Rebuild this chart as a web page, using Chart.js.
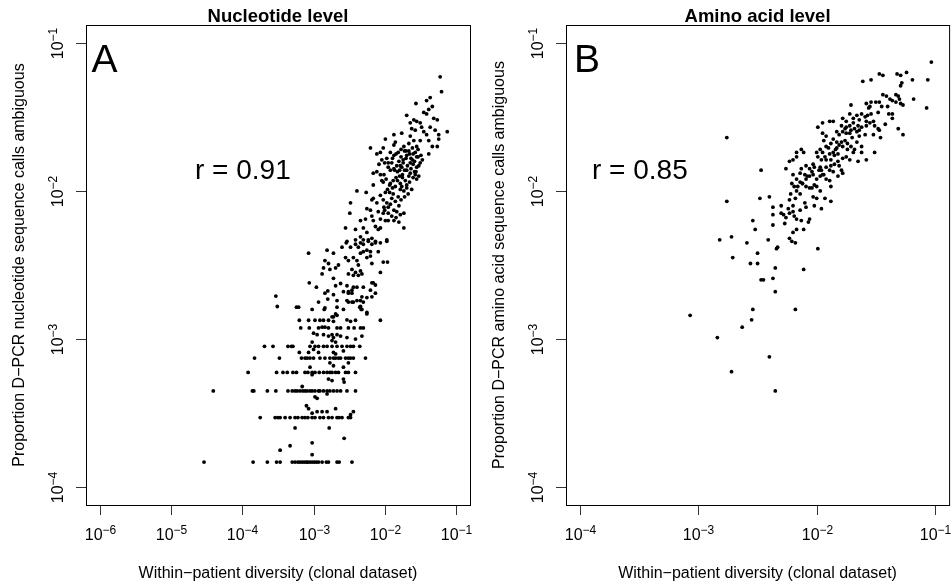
<!DOCTYPE html>
<html>
<head>
<meta charset="utf-8">
<script src="https://cdn.jsdelivr.net/npm/chart.js@4.4.1/dist/chart.umd.min.js"></script>
<style>
    html, body { margin: 0; padding: 0; background: #fff; }
    #wrap { position: relative; width: 951px; height: 586px; }
    canvas { position: absolute; top: 0; }
</style>
</head>
<body>
<div id="wrap">
    <canvas id="panelA" width="475" height="586" style="left:0"></canvas>
    <canvas id="panelB" width="476" height="586" style="left:475px"></canvas>
</div>
<script>
// All values are log10: [diversity, proportion ambiguous]

// ===== AXES =====
const ntDivRange = [-6.2, -0.8];
const aaDivRange = [-4.12, -0.88];
const ambRange = [-4.12, -0.88];
const ntTickExp = [-6, -5, -4, -3, -2, -1];
const aaTickExp = [-4, -3, -2, -1];
const ambTickExp = [-4, -3, -2, -1];

// ===== PANEL A: NUCLEOTIDE =====
// low counts of ambiguous calls sit on discrete levels
const ntRowLevels = [-3.83, -3.53, -3.35, -3.225, -3.128, -3.049];
const ntRowDiv = [
    [-4.54, -3.85, -3.65, -3.52, -3.47, -3.30, -3.26, -3.22, -3.19, -3.16, -3.13, -3.10, -3.08, -3.05, -3.02, -2.99, -2.96, -2.93, -2.88, -2.82, -2.79, -2.67, -2.64, -2.46],
    [-3.75, -3.54, -3.50, -3.47, -3.40, -3.33, -3.26, -3.22, -3.16, -3.12, -3.08, -3.02, -2.98, -2.91, -2.86, -2.79, -2.74, -2.67, -2.64, -2.60, -2.51, -2.48],
    [-4.41, -3.86, -3.84, -3.65, -3.53, -3.36, -3.30, -3.26, -3.23, -3.19, -3.15, -3.12, -3.09, -3.05, -3.02, -2.98, -2.93, -2.91, -2.86, -2.81, -2.77, -2.72, -2.67, -2.62, -2.53, -2.41],
    [-3.92, -3.52, -3.43, -3.37, -3.29, -3.24, -3.12, -3.08, -3.02, -2.98, -2.92, -2.86, -2.81, -2.77, -2.74, -2.69, -2.65, -2.55, -2.51, -2.41],
    [-3.83, -3.48, -3.17, -3.12, -3.09, -3.05, -3.00, -2.91, -2.84, -2.77, -2.72, -2.69, -2.65, -2.62, -2.55, -2.51, -2.48, -2.44, -2.27],
    [-3.69, -3.57, -3.36, -3.31, -3.29, -3.05, -2.98, -2.93, -2.86, -2.81, -2.74, -2.67, -2.60, -2.53, -2.48, -2.44, -2.35]
];

const ntLow = [
    [-3.26, -3.60], [-2.78, -3.60], [-2.57, -3.67], [-3.02, -3.70], [-3.33, -3.72], [-3.47, -3.75], [-3.02, -3.78],
    [-3.10, -3.45], [-3.07, -3.47], [-3.02, -3.50], [-2.95, -3.49], [-2.88, -3.49], [-2.81, -3.49], [-2.69, -3.47], [-2.44, -3.49], [-2.48, -3.51],
    [-3.16, -3.32], [-2.98, -3.39], [-2.95, -3.40], [-2.81, -3.37], [-2.79, -3.27], [-2.74, -3.28], [-2.58, -3.27], [-2.57, -3.29],
    [-3.05, -3.19], [-3.02, -3.24], [-2.77, -3.16], [-2.72, -3.18], [-2.58, -3.19], [-2.51, -3.16],
    [-3.00, -3.07], [-2.93, -3.09], [-3.20, -3.09], [-3.07, -3.09], [-2.72, -3.09], [-2.69, -3.10], [-2.58, -3.08], [-3.02, -3.02], [-2.74, -3.01], [-2.69, -3.02]
];

const ntMid = [
    [-3.00, -2.96], [-2.95, -2.97], [-2.86, -2.97], [-2.79, -2.98], [-2.74, -2.97], [-2.72, -2.99], [-2.67, -2.97], [-2.62, -2.98], [-2.53, -2.99], [-2.41, -3.00], [-2.32, -2.98],
    [-3.18, -2.925], [-3.06, -2.925], [-2.93, -2.925], [-2.88, -2.92], [-2.84, -2.92], [-2.79, -2.925], [-2.67, -2.925], [-2.62, -2.925], [-2.51, -2.925], [-2.43, -2.925], [-2.34, -2.925], [-2.30, -2.925],
    [-3.20, -2.873], [-3.07, -2.873], [-2.98, -2.873], [-2.91, -2.873], [-2.86, -2.873], [-2.79, -2.873], [-2.72, -2.88], [-2.53, -2.87], [-2.48, -2.88], [-2.41, -2.873], [-2.06, -2.873],
    [-2.69, -2.83], [-2.67, -2.84], [-2.72, -2.85], [-2.25, -2.83], [-2.74, -2.85],
    [-3.51, -2.78], [-3.24, -2.785], [-3.21, -2.785], [-3.02, -2.80], [-2.85, -2.80], [-2.84, -2.79], [-2.67, -2.785], [-2.58, -2.80], [-2.35, -2.785], [-2.32, -2.80], [-2.34, -2.78], [-2.33, -2.80], [-2.25, -2.82],
    [-2.93, -2.75], [-2.80, -2.73], [-2.67, -2.74], [-2.53, -2.74], [-2.44, -2.75], [-2.39, -2.74], [-2.30, -2.75], [-2.51, -2.75], [-2.46, -2.75], [-2.34, -2.74],
    [-3.53, -2.71], [-2.32, -2.715], [-2.25, -2.72], [-2.18, -2.715],
    [-2.72, -2.70], [-2.80, -2.675], [-2.58, -2.68], [-2.51, -2.69], [-2.46, -2.67], [-2.20, -2.67], [-2.13, -2.69], [-2.84, -2.69], [-2.51, -2.68], [-2.46, -2.69],
    [-3.06, -2.62], [-2.96, -2.65], [-2.69, -2.64], [-2.62, -2.625], [-2.53, -2.64], [-2.44, -2.65], [-2.30, -2.65], [-2.18, -2.62], [-2.13, -2.635], [-2.16, -2.62], [-2.39, -2.65]
];

const ntUpper = [
    [-3.07, -2.42], [-2.81, -2.40], [-2.72, -2.42], [-2.60, -2.38], [-2.54, -2.35], [-2.48, -2.38], [-2.41, -2.36], [-2.37, -2.38], [-2.34, -2.35], [-2.30, -2.36],
    [-2.23, -2.34], [-2.18, -2.36], [-2.13, -2.35], [-2.06, -2.35], [-1.97, -2.34], [-2.25, -2.40], [-2.20, -2.41], [-2.34, -2.42], [-2.30, -2.41], [-2.09, -2.41],
    [-2.84, -2.47], [-2.79, -2.49], [-2.55, -2.45], [-2.51, -2.47], [-2.44, -2.45], [-2.39, -2.47], [-2.25, -2.45], [-2.20, -2.44], [-2.37, -2.50], [-2.18, -2.49],
    [-2.02, -2.48], [-1.96, -2.48], [-2.86, -2.52], [-2.69, -2.52], [-2.65, -2.50], [-2.77, -2.53], [-2.88, -2.56], [-2.46, -2.53], [-2.41, -2.55], [-2.51, -2.56],
    [-2.34, -2.54], [-2.32, -2.56], [-2.37, -2.57], [-2.44, -2.57], [-2.06, -2.55], [-2.72, -2.59]
];

const ntCore = [
    [-2.11, -1.75], [-2.06, -1.74], [-1.92, -1.74], [-1.87, -1.76], [-1.81, -1.74], [-1.77, -1.77], [-1.72, -1.73], [-1.70, -1.78], [-1.65, -1.75], [-1.61, -1.79],
    [-1.57, -1.74], [-1.53, -1.77], [-1.64, -1.81], [-1.74, -1.81], [-1.78, -1.83], [-1.50, -1.81], [-1.38, -1.75], [-1.97, -1.78], [-1.95, -1.81], [-1.92, -1.86],
    [-1.87, -1.85], [-2.16, -1.88], [-2.11, -1.87], [-2.06, -1.89], [-1.82, -1.87], [-1.79, -1.90], [-1.82, -1.93], [-1.78, -1.95], [-1.75, -1.91], [-1.69, -1.86],
    [-1.64, -1.88], [-1.57, -1.89], [-1.52, -1.90], [-1.55, -1.92], [-2.04, -1.93], [-2.02, -1.94], [-2.16, -1.96], [-1.92, -1.95], [-1.89, -1.98], [-1.93, -2.01],
    [-1.88, -2.02], [-1.85, -1.97], [-1.76, -1.97], [-1.69, -1.98], [-1.99, -2.01], [-2.06, -2.03], [-2.39, -2.00], [-2.26, -2.01], [-2.48, -2.08], [-2.49, -2.15],
    [-2.18, -2.06], [-2.16, -2.05], [-2.11, -2.08], [-2.02, -2.06], [-2.01, -2.11], [-1.95, -2.11], [-1.87, -2.13], [-1.83, -2.14], [-1.78, -2.16], [-1.73, -2.15],
    [-2.25, -2.12], [-2.20, -2.13], [-2.09, -2.14], [-2.02, -2.15], [-2.34, -2.20], [-2.27, -2.19], [-2.18, -2.17], [-2.16, -2.20], [-2.06, -2.19], [-1.99, -2.20],
    [-1.95, -2.20], [-1.87, -2.20], [-1.80, -2.21], [-1.73, -2.25], [-2.55, -2.25], [-2.41, -2.26], [-2.30, -2.25], [-2.25, -2.28], [-2.13, -2.24], [-2.09, -2.26],
    [-2.06, -2.25], [-2.41, -2.33], [-2.34, -2.31], [-2.30, -2.33], [-2.23, -2.33], [-2.18, -2.32], [-2.13, -2.34], [-1.97, -2.33], [-2.53, -2.34],
    [-1.80, -1.80], [-1.76, -1.84], [-1.72, -1.86], [-1.68, -1.83], [-1.63, -1.85], [-1.60, -1.82], [-1.58, -1.87], [-1.66, -1.90], [-1.71, -1.93], [-1.75, -1.89],
    [-1.78, -1.99], [-1.73, -2.00], [-1.69, -1.96], [-1.65, -1.94], [-1.62, -1.99], [-1.81, -2.04], [-1.77, -2.06], [-1.72, -2.04], [-1.85, -2.07], [-1.90, -2.05],
    [-1.84, -1.91], [-1.88, -1.93], [-1.86, -1.86], [-1.83, -1.83], [-1.79, -1.86], [-1.74, -1.79], [-1.69, -1.76], [-1.63, -1.78], [-1.58, -1.80], [-1.55, -1.84],
    [-1.67, -2.02], [-1.80, -2.10], [-1.92, -2.09], [-1.97, -2.08], [-1.95, -2.15], [-1.90, -2.17], [-1.84, -2.18], [-2.00, -2.13], [-1.96, -1.99], [-1.93, -1.96],
    [-1.98, -1.92], [-2.01, -1.89], [-1.95, -1.84], [-1.90, -1.81], [-2.00, -1.81], [-2.04, -1.79], [-2.08, -1.82], [-1.89, -1.78], [-1.84, -1.75], [-1.77, -1.72],
    [-1.70, -1.73], [-1.66, -1.73], [-1.60, -1.75], [-1.55, -1.77], [-1.49, -1.76], [-1.47, -1.79], [-1.52, -1.83], [-1.56, -1.87], [-1.60, -1.91]
];

const ntTop = [
    [-1.22, -1.23], [-1.20, -1.33], [-1.36, -1.37], [-1.41, -1.39], [-1.56, -1.41], [-1.33, -1.43], [-1.38, -1.45], [-1.45, -1.47], [-1.41, -1.48], [-1.69, -1.49],
    [-1.59, -1.52], [-1.55, -1.53], [-1.31, -1.51], [-1.26, -1.52], [-1.64, -1.54], [-1.50, -1.54], [-1.48, -1.57], [-1.62, -1.58], [-1.57, -1.59], [-1.36, -1.57],
    [-1.29, -1.59], [-1.12, -1.60], [-1.24, -1.62], [-1.45, -1.60], [-1.41, -1.62], [-1.76, -1.61], [-1.87, -1.62], [-1.99, -1.65], [-1.64, -1.63], [-1.59, -1.66],
    [-1.66, -1.68], [-1.50, -1.66], [-1.55, -1.70], [-1.38, -1.66], [-1.24, -1.65], [-1.26, -1.70], [-1.85, -1.67], [-1.87, -1.69], [-1.33, -1.70], [-2.20, -1.71],
    [-2.02, -1.71], [-1.73, -1.70], [-1.61, -1.71], [-1.53, -1.72]
];

// ===== PANEL B: AMINO ACID =====
const aaPoints = [
    [-1.03, -1.13], [-1.47, -1.21], [-1.44, -1.22], [-1.32, -1.21], [-1.29, -1.22], [-1.24, -1.20], [-1.61, -1.26], [-1.54, -1.25], [-1.28, -1.27], [-1.29, -1.29],
    [-1.19, -1.25], [-1.06, -1.25], [-1.18, -1.38], [-1.07, -1.44], [-1.44, -1.35], [-1.41, -1.36], [-1.33, -1.35], [-1.31, -1.36], [-1.38, -1.38], [-1.36, -1.39],
    [-1.33, -1.40], [-1.29, -1.41], [-1.27, -1.42], [-1.47, -1.40], [-1.45, -1.43], [-1.58, -1.41], [-1.54, -1.40], [-1.55, -1.43], [-1.71, -1.42], [-1.39, -1.48],
    [-1.36, -1.51], [-1.31, -1.58], [-1.27, -1.62], [-1.51, -1.56], [-1.48, -1.58], [-1.47, -1.59], [-1.62, -1.48], [-1.59, -1.50], [-1.57, -1.49], [-1.54, -1.48],
    [-1.66, -1.49], [-1.69, -1.51], [-1.72, -1.48], [-1.78, -1.51], [-1.75, -1.53], [-1.58, -1.53], [-1.55, -1.54], [-1.52, -1.53], [-1.69, -1.54], [-1.65, -1.56],
    [-1.62, -1.57], [-1.79, -1.56], [-1.75, -1.57], [-1.72, -1.56], [-1.86, -1.53], [-1.95, -1.54], [-1.89, -1.53], [-1.99, -1.57], [-1.71, -1.59], [-1.66, -1.60],
    [-1.64, -1.59], [-1.78, -1.60], [-1.75, -1.61], [-1.72, -1.61], [-1.64, -1.63], [-1.59, -1.62], [-1.81, -1.62], [-1.95, -1.61], [-1.92, -1.63], [-1.94, -1.66],
    [-1.86, -1.65], [-1.83, -1.67], [-1.79, -1.67], [-1.76, -1.66], [-1.74, -1.68], [-1.81, -1.69], [-1.78, -1.70], [-1.83, -1.71], [-1.71, -1.70], [-1.68, -1.72],
    [-1.69, -1.74], [-1.62, -1.74], [-1.51, -1.74], [-1.58, -1.79], [-1.65, -1.80], [-1.72, -1.79], [-1.75, -1.77], [-1.78, -1.78], [-1.97, -1.72], [-1.95, -1.74],
    [-1.90, -1.71], [-1.89, -1.75], [-1.86, -1.74], [-1.85, -1.76], [-1.82, -1.75], [-2.00, -1.74], [-1.99, -1.77], [-1.93, -1.77], [-1.92, -1.79], [-1.88, -1.79],
    [-1.85, -1.82], [-1.82, -1.80], [-1.81, -1.83], [-1.79, -1.86], [-1.78, -1.88], [-1.92, -1.84], [-1.89, -1.86], [-1.88, -1.83], [-1.97, -1.84], [-1.96, -1.86],
    [-2.03, -1.82], [-2.02, -1.84], [-2.09, -1.83], [-2.06, -1.85], [-2.13, -1.85], [-2.14, -1.88], [-2.20, -1.79], [-2.17, -1.77], [-2.23, -1.80], [-2.17, -1.74],
    [-2.13, -1.72], [-2.11, -1.74], [-2.26, -1.85], [-2.20, -1.89], [-2.17, -1.92], [-2.14, -1.94], [-2.10, -1.89], [-2.09, -1.92], [-2.06, -1.90], [-2.03, -1.89],
    [-2.00, -1.92], [-1.97, -1.90], [-1.95, -1.89], [-1.92, -1.92], [-1.89, -1.93], [-2.12, -1.95], [-2.09, -1.97], [-2.04, -1.98], [-2.00, -1.97], [-1.97, -2.00],
    [-1.88, -1.97], [-2.21, -1.95], [-2.19, -1.97], [-2.17, -2.00], [-2.14, -2.02], [-2.03, -2.04], [-2.00, -2.05], [-1.93, -2.05], [-1.88, -2.07], [-1.96, -2.12],
    [-2.09, -2.11], [-2.23, -2.06], [-2.20, -2.10], [-2.30, -2.10], [-2.37, -2.11], [-2.48, -2.05], [-2.40, -2.04], [-2.28, -2.16], [-2.26, -2.18], [-2.23, -2.15],
    [-2.20, -2.14], [-2.19, -2.17], [-2.17, -2.19], [-2.13, -2.20], [-2.06, -2.19], [-2.07, -2.21], [-2.37, -2.16], [-2.37, -2.23], [-2.27, -2.22], [-2.54, -2.20],
    [-2.52, -2.26], [-2.20, -2.28], [-2.17, -2.26], [-2.23, -2.32], [-2.21, -2.34], [-2.11, -2.26], [-2.41, -2.33], [-2.59, -2.35], [-2.72, -2.31], [-2.82, -2.33],
    [-2.34, -2.39], [-2.33, -2.38], [-2.50, -2.42], [-2.71, -2.45], [-1.99, -2.39], [-2.76, -1.64], [-2.76, -2.07], [-2.47, -1.86],
    [-2.18, -2.35], [-2.56, -2.49], [-2.50, -2.49], [-2.35, -2.52], [-2.11, -2.53], [-2.47, -2.60], [-2.45, -2.60], [-2.37, -2.59], [-2.35, -2.68], [-2.54, -2.80],
    [-2.18, -2.80], [-3.07, -2.84], [-2.55, -2.87], [-2.63, -2.92], [-2.84, -2.99], [-2.40, -3.12], [-2.72, -3.22], [-2.35, -3.35],
    [-1.70, -1.64], [-1.66, -1.67], [-1.74, -1.72], [-1.62, -1.70], [-1.88, -1.68], [-1.92, -1.70], [-1.96, -1.79], [-1.98, -1.86], [-2.04, -1.87], [-2.08, -1.90],
    [-2.12, -1.95], [-2.06, -1.98], [-2.02, -1.96], [-1.94, -1.89], [-1.86, -1.87], [-1.82, -1.90], [-1.84, -1.72], [-1.68, -1.58], [-1.58, -1.56], [-1.52, -1.62],
    [-1.46, -1.64], [-1.42, -1.55], [-1.36, -1.48], [-1.48, -1.47], [-1.40, -1.43], [-1.30, -1.38], [-1.50, -1.40], [-1.56, -1.44], [-1.64, -1.52], [-1.76, -1.58],
    [-1.83, -1.60], [-2.16, -1.97], [-2.22, -2.02], [-2.18, -2.05], [-2.10, -2.08], [-2.02, -2.10], [-2.24, -2.12], [-2.14, -2.13], [-2.30, -2.15]
];

// ===== BUILD POINTS =====
const ntPoints = [
    ...ntRowLevels.flatMap((lv, i) => ntRowDiv[i].map(d => [d, lv])),
    ...ntLow, ...ntMid, ...ntUpper, ...ntCore, ...ntTop
];

const FONT = '"Liberation Sans", Arial, Helvetica, sans-serif';

function powLabel(ctx, exp, cx, base) {
    const main = '10', sup = '\u2212' + Math.abs(exp);
    ctx.font = '16px ' + FONT;
    const w1 = ctx.measureText(main).width;
    ctx.font = '12px ' + FONT;
    const w2 = ctx.measureText(sup).width;
    const x0 = cx - (w1 + w2) / 2;
    ctx.font = '16px ' + FONT;
    ctx.fillText(main, x0, base);
    ctx.font = '12px ' + FONT;
    ctx.fillText(sup, x0 + w1, base - 6);
}

// R-style box, ticks and labels
function rAxes(cfg) {
    return {
        id: 'rAxes',
        afterDraw(chart) {
            const { ctx, chartArea: a, scales: { x, y } } = chart;
            ctx.save();
            ctx.fillStyle = '#000';
            ctx.strokeStyle = '#000';
            ctx.lineWidth = 1;
            ctx.strokeRect(a.left + 0.5, a.top + 0.5, a.right - a.left, a.bottom - a.top);

            ctx.strokeStyle = '#333';
            ctx.textAlign = 'left';
            ctx.textBaseline = 'alphabetic';
            cfg.xTicks.forEach(e => {
                const px = Math.round(x.getPixelForValue(10 ** e)) + 0.5;
                ctx.beginPath(); ctx.moveTo(px, a.bottom + 1); ctx.lineTo(px, a.bottom + 10); ctx.stroke();
                powLabel(ctx, e, px, 540);
            });
            ambTickExp.forEach(e => {
                const py = Math.round(y.getPixelForValue(10 ** e)) + 0.5;
                ctx.beginPath(); ctx.moveTo(a.left - 10, py); ctx.lineTo(a.left, py); ctx.stroke();
                ctx.save();
                ctx.translate(a.left - 23, py);
                ctx.rotate(-Math.PI / 2);
                powLabel(ctx, e, 0, 0);
                ctx.restore();
            });

            const cx = (a.left + a.right) / 2, cy = (a.top + a.bottom) / 2;
            ctx.textAlign = 'center';
            ctx.font = 'bold 18.5px ' + FONT;
            ctx.fillText(cfg.title, cx, 21.5);
            ctx.font = '16px ' + FONT;
            ctx.fillText('Within\u2212patient diversity (clonal dataset)', cx, 577.5);
            ctx.save();
            ctx.translate(a.left - 62, cy);
            ctx.rotate(-Math.PI / 2);
            ctx.fillText(cfg.yTitle, 0, 0);
            ctx.restore();

            ctx.textAlign = 'left';
            ctx.font = '39px ' + FONT;
            ctx.fillText(cfg.letter, cfg.letterX, 71.5);
            ctx.font = '28px ' + FONT;
            ctx.fillText(cfg.rText, cfg.rX, 179);
            ctx.restore();
        }
    };
}

function makePanel(id, points, cfg) {
    return new Chart(document.getElementById(id), {
        type: 'scatter',
        data: {
            datasets: [{
                data: points.map(p => ({ x: 10 ** p[0], y: 10 ** p[1] })),
                backgroundColor: '#000', borderWidth: 0,
                pointRadius: 1.9, pointHoverRadius: 1.9
            }]
        },
        options: {
            responsive: false, animation: false, events: [],
            layout: { padding: cfg.pad },
            plugins: { legend: { display: false }, tooltip: { enabled: false } },
            scales: {
                x: { type: 'logarithmic', min: 10 ** cfg.xRange[0], max: 10 ** cfg.xRange[1], display: false },
                y: { type: 'logarithmic', min: 10 ** ambRange[0], max: 10 ** ambRange[1], display: false }
            }
        },
        plugins: [rAxes(cfg)]
    });
}

makePanel('panelA', ntPoints, {
    pad: { left: 86, right: 5, top: 25, bottom: 81 },
    xRange: ntDivRange, xTicks: ntTickExp,
    title: 'Nucleotide level',
    yTitle: 'Proportion D\u2212PCR nucleotide sequence calls ambiguous',
    letter: 'A', letterX: 91.5, rText: 'r = 0.91', rX: 195
});

makePanel('panelB', aaPoints, {
    pad: { left: 91, right: 1, top: 25, bottom: 81 },
    xRange: aaDivRange, xTicks: aaTickExp,
    title: 'Amino acid level',
    yTitle: 'Proportion D\u2212PCR amino acid sequence calls ambiguous',
    letter: 'B', letterX: 99, rText: 'r = 0.85', rX: 117
});
</script>
</body>
</html>
